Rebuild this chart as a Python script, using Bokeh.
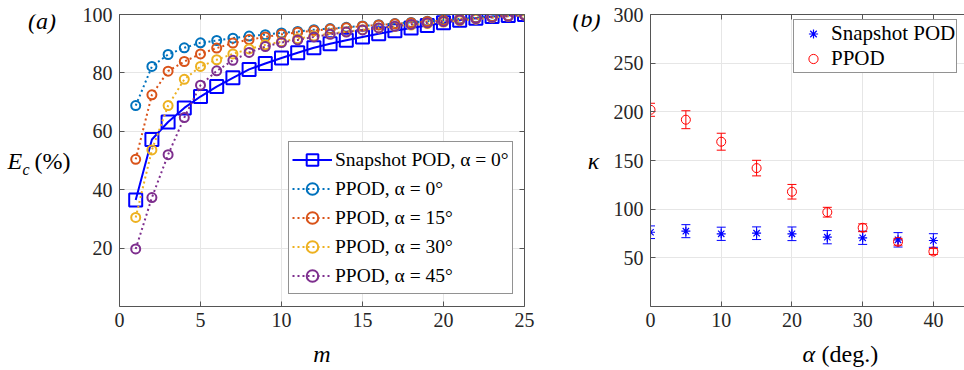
from bokeh.plotting import figure
from bokeh.models import (Range1d, FixedTicker, LinearAxis, Legend, LegendItem,
                          Label, Whisker, TeeHead, ColumnDataSource)
from bokeh.layouts import row, column
from bokeh.embed import file_html
from bokeh.resources import INLINE

# ---------------- data: panel (a) ----------------
m = list(range(1, 26))
snap_pod = [36.5, 57.2, 63.2, 68.0, 71.9, 75.3, 78.3, 81.2, 83.2, 85.1, 86.9, 88.6, 90.0,
            91.2, 92.3, 93.4, 94.4, 95.4, 96.2, 97.2, 98.0, 98.7, 99.3, 99.7, 100.0]
ppod_0 = [68.8, 82.2, 86.3, 88.6, 90.3, 91.1, 91.9, 92.6, 93.1, 93.7, 94.2, 94.8, 95.2,
          95.6, 96.1, 96.5, 96.9, 97.3, 97.7, 98.1, 98.5, 98.9, 99.3, 99.6, 100.0]
ppod_15 = [50.4, 72.5, 80.6, 83.9, 86.5, 88.5, 90.2, 91.4, 92.3, 93.2, 93.9, 94.5, 95.0,
           95.5, 96.0, 96.4, 96.8, 97.2, 97.6, 98.0, 98.4, 98.8, 99.2, 99.6, 100.0]
ppod_30 = [30.5, 53.6, 68.8, 77.8, 82.2, 84.5, 86.5, 88.2, 89.6, 90.7, 91.7, 92.6, 93.4,
           94.1, 94.8, 95.4, 95.9, 96.4, 96.9, 97.4, 97.9, 98.4, 98.9, 99.4, 99.8]
ppod_45 = [19.7, 37.3, 52.0, 64.7, 75.8, 80.7, 84.3, 87.0, 89.0, 90.4, 91.3, 92.3, 93.2,
           94.0, 94.7, 95.4, 96.0, 96.6, 97.1, 97.6, 98.1, 98.6, 99.0, 99.4, 99.8]
ppod_series = [("PPOD, α = 0°", ppod_0, "#0072BD"),
               ("PPOD, α = 15°", ppod_15, "#D95319"),
               ("PPOD, α = 30°", ppod_30, "#EDB120"),
               ("PPOD, α = 45°", ppod_45, "#7E2F8E")]
a_xticks = [0, 5, 10, 15, 20, 25]
a_yticks = [20, 40, 60, 80, 100]

# ---------------- data: panel (b) ----------------
alpha = [0, 5, 10, 15, 20, 25, 30, 35, 40]
kappa_snap = [76.3, 77.4, 74.7, 75.3, 74.7, 71.2, 70.6, 68.5, 67.8]
err_snap = [6.5, 6.7, 6.8, 6.5, 7.0, 6.8, 6.8, 7.4, 7.0]
kappa_ppod = [202.1, 191.9, 169.3, 142.2, 117.9, 96.9, 80.9, 66.5, 56.5]
err_ppod = [6.7, 9.2, 8.7, 8.0, 7.5, 5.0, 4.0, 3.5, 3.0]
b_xticks = [0, 10, 20, 30, 40]
b_yticks = [50, 100, 150, 200, 250, 300]

FONT = "Liberation Serif"
AX = "#555555"
TXT = "#262626"
GRID = "#e6e6e6"
LBL = "24px"


def conf_axis(ax, ticks, labels=True):
    ax.ticker = FixedTicker(ticks=ticks, minor_ticks=[])
    ax.axis_line_color = AX
    ax.axis_line_width = 1
    ax.major_tick_line_color = AX
    ax.major_tick_in = 5
    ax.major_tick_out = 0
    ax.minor_tick_line_color = None
    ax.major_label_text_font = FONT
    ax.major_label_text_color = TXT
    if labels:
        ax.major_label_text_font_size = "20px"
        ax.major_label_standoff = 6
    else:
        ax.major_label_text_font_size = "0px"
        ax.major_label_text_alpha = 0
        ax.major_label_standoff = 0


def style(p, xt, yt, right=True):
    p.outline_line_color = None
    conf_axis(p.below[0], xt)
    conf_axis(p.left[0], yt)
    p.left[0].major_label_standoff = 7
    top = LinearAxis()
    conf_axis(top, xt, labels=False)
    p.add_layout(top, "above")
    if right:
        rgt = LinearAxis()
        conf_axis(rgt, yt, labels=False)
        p.add_layout(rgt, "right")
    p.xgrid.ticker = FixedTicker(ticks=xt)
    p.ygrid.ticker = FixedTicker(ticks=yt)
    p.xgrid.grid_line_color = GRID
    p.ygrid.grid_line_color = GRID
    p.background_fill_color = "white"
    p.border_fill_color = "white"


def text_strip(w, h):
    # an empty canvas (frame == canvas) that only carries text labels
    s = figure(width=w, height=h, x_range=Range1d(0, w), y_range=Range1d(0, h),
               x_axis_type=None, y_axis_type=None, output_backend="svg",
               toolbar_location=None, min_border=0)
    s.grid.visible = False
    s.outline_line_color = None
    s.background_fill_color = "white"
    s.border_fill_color = "white"
    return s


def add_label(p, text, x, y, size=LBL, style_="normal", align="left"):
    p.add_layout(Label(x=x, y=y, x_units="canvas", y_units="canvas", text=text,
                       text_font=FONT, text_font_size=size, text_font_style=style_,
                       text_color="black", text_align=align, text_baseline="middle"))


# ---------------- panel (a) ----------------
p1 = figure(frame_width=405, frame_height=292, x_range=Range1d(0, 25), y_range=Range1d(0, 100),
            output_backend="svg", toolbar_location=None,
            min_border_left=41, min_border_right=36, min_border_top=14, min_border_bottom=30)
style(p1, a_xticks, a_yticks, right=True)

items = []
l0 = p1.line(m, snap_pod, line_color="#0000FF", line_width=2)
s0 = p1.scatter(m, snap_pod, marker="square", size=13, line_color="#0000FF",
                fill_color=None, line_width=2)
items.append(LegendItem(label="Snapshot POD, α = 0°", renderers=[l0, s0]))
for name, vals, col in ppod_series:
    ll = p1.line(m, vals, line_color=col, line_width=2, line_dash="2 3")
    ss = p1.scatter(m, vals, marker="circle", size=9, line_color=col,
                    fill_color=None, line_width=2)
    items.append(LegendItem(label=name, renderers=[ll, ss]))

leg1 = Legend(items=items, location=(169, 12), label_text_font=FONT,
              label_text_font_size="19.5px", label_text_color="black",
              glyph_width=40, glyph_height=29, label_height=29, label_standoff=3,
              padding=3, spacing=0, margin=0,
              border_line_color="#262626", border_line_width=1,
              background_fill_color="white", background_fill_alpha=1)
p1.add_layout(leg1)

# ---------------- panel (b) ----------------
p2 = figure(frame_width=314, frame_height=292, x_range=Range1d(0, 44.4), y_range=Range1d(0, 300),
            output_backend="svg", toolbar_location=None,
            min_border_left=42, min_border_right=0, min_border_top=14, min_border_bottom=30)
style(p2, b_xticks, b_yticks, right=False)

src_s = ColumnDataSource(dict(x=alpha, y=kappa_snap,
                              lo=[k - e for k, e in zip(kappa_snap, err_snap)],
                              hi=[k + e for k, e in zip(kappa_snap, err_snap)]))
src_p = ColumnDataSource(dict(x=alpha, y=kappa_ppod,
                              lo=[k - e for k, e in zip(kappa_ppod, err_ppod)],
                              hi=[k + e for k, e in zip(kappa_ppod, err_ppod)]))

for src, col in ((src_s, "#0000FF"), (src_p, "#FF0000")):
    p2.add_layout(Whisker(source=src, base="x", upper="hi", lower="lo",
                          line_color=col, line_width=1,
                          upper_head=TeeHead(size=9, line_color=col, line_width=1),
                          lower_head=TeeHead(size=9, line_color=col, line_width=1)))

ms = p2.scatter("x", "y", source=src_s, marker="asterisk", size=9,
                line_color="#0000FF", line_width=1.2)
mp = p2.scatter("x", "y", source=src_p, marker="circle", size=9,
                line_color="#FF0000", fill_color=None, line_width=1)

leg2 = Legend(items=[LegendItem(label="Snapshot POD", renderers=[ms]),
                     LegendItem(label="PPOD", renderers=[mp])],
              location=(143, 233), label_text_font=FONT, label_text_font_size="21px",
              label_text_color="black", glyph_width=36, glyph_height=23, label_height=23,
              label_standoff=0, padding=1, spacing=0, margin=0,
              border_line_color="#262626", border_line_width=1,
              background_fill_color="white", background_fill_alpha=1)
p2.add_layout(leg2)

# ---------------- text strips (titles and axis labels) ----------------
la = text_strip(78, 336)
add_label(la, "(a)", 41.5, 20, style_="italic", align="center")
add_label(la, "E", 7, 160, style_="italic")
add_label(la, "c", 22, 169, size="16px", style_="italic")
add_label(la, "(%)", 34, 160)

lb = text_strip(48, 336)
add_label(lb, "(b)", 26, 18, style_="italic", align="center")
add_label(lb, "κ", 33, 160, style_="italic", align="center")

bottom = text_strip(964, 34)
add_label(bottom, "m", 321.5, 17, style_="italic", align="center")
add_label(bottom, "α", 802, 17, style_="italic")
add_label(bottom, "(deg.)", 821, 17)

layout = column(row(la, p1, lb, p2), bottom)
open("out.html", "w").write(file_html(layout, INLINE))
